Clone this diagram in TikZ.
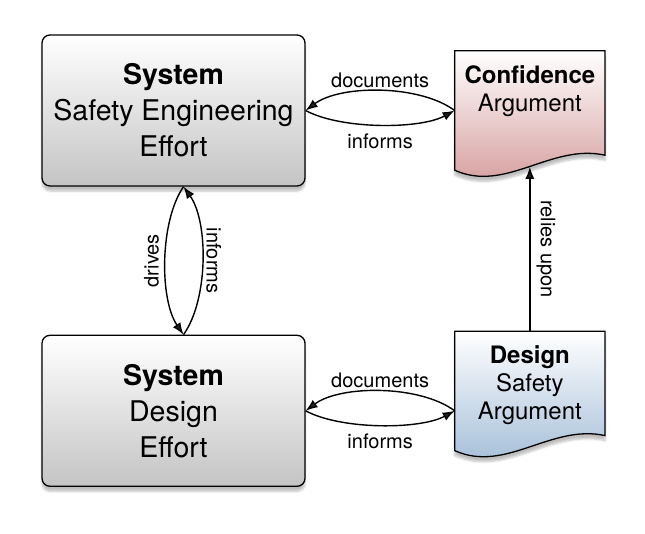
\documentclass[tikz,border=0pt]{standalone}
\usepackage{fontspec}
\setmainfont{TeX Gyre Heros}
\usetikzlibrary{arrows.meta,positioning,shadows.blur,backgrounds}
\definecolor{boxgray}{RGB}{196,196,196}
\definecolor{confred}{RGB}{212,152,152}
\definecolor{desblue}{RGB}{158,186,214}

% document outline with wavy bottom, drawn round an argdoc node
\newcommand{\argshape}[2]{%
  \path[draw,line width=1.3pt,top color=white,bottom color=#2,
    blur shadow={shadow xshift=0pt,shadow yshift=-5pt,shadow blur steps=6,shadow opacity=25}]
    (#1.south west) -- (#1.north west) -- (#1.north east) -- ([yshift=15pt]#1.south east)
    .. controls +(-54,-12) and +(51,23) .. (#1.south west) coordinate[pos=0.5] (#1-wave) -- cycle;}

\begin{document}
\begin{tikzpicture}[x=1pt,y=-1pt,
  effort/.style={draw,line width=1.3pt,rounded corners=8pt,top color=white,bottom color=boxgray,
    minimum width=263pt,minimum height=151pt,align=center,font=\fontsize{28.5}{36}\selectfont,
    blur shadow={shadow xshift=0pt,shadow yshift=-5pt,shadow blur steps=6,shadow opacity=25}},
  argdoc/.style={minimum width=150pt,minimum height=119pt,inner sep=0pt,text width=150pt,align=center,
    font=\fontsize{24}{28}\selectfont,text height=18pt,text depth=73pt},
  link/.style={-{Latex[length=12pt,width=9pt]},line width=1.4pt},
  lbl/.style={font=\fontsize{20}{24}\selectfont}]
  \useasboundingbox (0,0) rectangle (645,533);
  \node[effort] (sys) at (173.5,110.5) {\textbf{System}\\Safety Engineering\\Effort};
  \node[effort,below=148pt of sys] (des) {\textbf{System}\\Design\\Effort};
  \node[argdoc,right=149pt of sys] (conf) {\textbf{Confidence}\\Argument};
  \node[argdoc,below=161pt of conf] (dsa) {\textbf{Design}\\Safety\\Argument};
  \begin{pgfonlayer}{background}
    \argshape{conf}{confred}
    \argshape{dsa}{desblue}
  \end{pgfonlayer}
  % top pair
  \draw[link] (conf.west |- sys.east) .. controls +(-35,-26) and +(35,-26) .. (sys.east)
    node[lbl,midway,above=-1pt] {documents};
  \draw[link] (sys.east) .. controls +(35,19) and +(-35,19) .. (conf.west |- sys.east)
    node[lbl,midway,below=5pt] {informs};
  % bottom pair
  \draw[link] (dsa.west |- des.east) .. controls +(-35,-26) and +(35,-26) .. (des.east)
    node[lbl,midway,above=-1pt] {documents};
  \draw[link] (des.east) .. controls +(35,19) and +(-35,19) .. (dsa.west |- des.east)
    node[lbl,midway,below=5pt] {informs};
  % between the efforts
  \draw[link] ([xshift=10pt]sys.south) .. controls +(-24,35) and +(-24,-35) .. ([xshift=10pt]des.north)
    node[lbl,midway,rotate=90,anchor=south,inner sep=6pt] {drives};
  \draw[link] ([xshift=10pt]des.north) .. controls +(25,-35) and +(25,35) .. ([xshift=10pt]sys.south)
    node[lbl,midway,rotate=-90,anchor=south] {informs};
  \draw[link] (dsa.north) -- (dsa.north |- conf-wave)
    node[lbl,midway,rotate=-90,anchor=south,inner sep=6pt] {relies upon};
\end{tikzpicture}
\end{document}
